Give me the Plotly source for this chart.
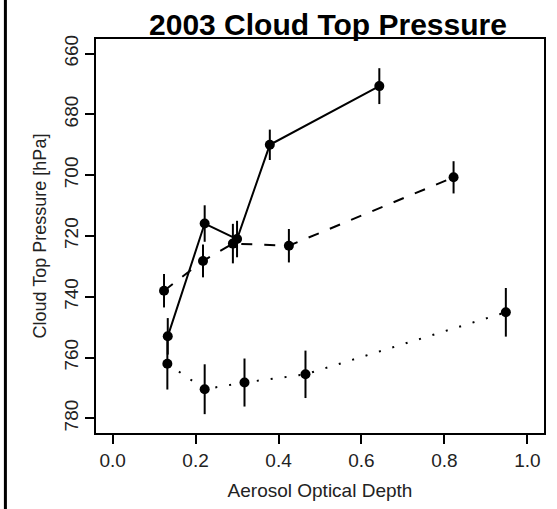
import plotly.graph_objects as go

# Aerosol optical depth vs. cloud top pressure, three groups
aod_solid = [0.133, 0.222, 0.300, 0.379, 0.643]
ctp_solid = [753.0, 715.9, 721.0, 690.0, 670.7]
err_solid = [6.0, 6.0, 6.0, 5.0, 5.9]

aod_dashed = [0.124, 0.218, 0.290, 0.425, 0.822]
ctp_dashed = [738.0, 728.2, 722.5, 723.2, 700.7]
err_dashed = [5.5, 5.4, 6.5, 5.5, 5.3]

aod_dotted = [0.132, 0.222, 0.318, 0.465, 0.948]
ctp_dotted = [762.0, 770.4, 768.2, 765.5, 745.1]
err_dotted = [8.5, 8.2, 7.9, 7.8, 8.0]

x_ticks = [0.0, 0.2, 0.4, 0.6, 0.8, 1.0]
y_ticks = [660, 680, 700, 720, 740, 760, 780]

FONT = "Liberation Sans, Arial, sans-serif"

fig = go.Figure()

series = [
    (aod_solid, ctp_solid, err_solid, "solid"),
    (aod_dashed, ctp_dashed, err_dashed, "11px,12px"),
    (aod_dotted, ctp_dotted, err_dotted, "2px,12px"),
]
for xs, ys, es, dash in series:
    fig.add_trace(go.Scatter(
        x=xs, y=ys,
        mode="lines+markers",
        line=dict(color="black", width=2, dash=dash),
        marker=dict(color="black", size=10),
        error_y=dict(type="data", array=es, visible=True,
                     width=0, thickness=2, color="black"),
        showlegend=False,
        hoverinfo="x+y",
    ))

axis_common = dict(
    showgrid=False, zeroline=False,
    showline=True, linecolor="black", linewidth=1.5, mirror=True,
    ticks="outside", ticklen=9, tickwidth=1.5, tickcolor="black",
    tickfont=dict(family=FONT, size=19, color="#222"),
)

fig.update_xaxes(
    range=[-0.04, 1.04],
    tickvals=x_ticks,
    ticktext=[f"{v:.1f}" for v in x_ticks],
    title=dict(text="Aerosol Optical Depth", standoff=14,
               font=dict(family=FONT, size=19, color="#222")),
    **axis_common,
)
fig.update_yaxes(
    range=[784.8, 655.2],
    tickvals=y_ticks,
    ticktext=[str(v) for v in y_ticks],
    tickangle=-90,
    title=dict(text="Cloud Top Pressure [hPa]", standoff=9,
               font=dict(family=FONT, size=18, color="#222")),
    **axis_common,
)

fig.update_layout(
    width=557, height=509,
    margin=dict(l=96, r=11, t=39, b=67),
    plot_bgcolor="white", paper_bgcolor="white",
    title=dict(text="<b>2003 Cloud Top Pressure</b>",
               font=dict(family=FONT, size=30, color="black"),
               x=(329 - 96) / 450, xref="paper", xanchor="center",
               y=1 - 24 / 509, yref="container", yanchor="middle"),
    shapes=[dict(type="line", xref="paper", yref="paper",
                 x0=(5 - 96) / 450, x1=(5 - 96) / 450,
                 y0=-0.25, y1=1.2,
                 line=dict(color="black", width=3))],
)

fig.write_html("out.html")
